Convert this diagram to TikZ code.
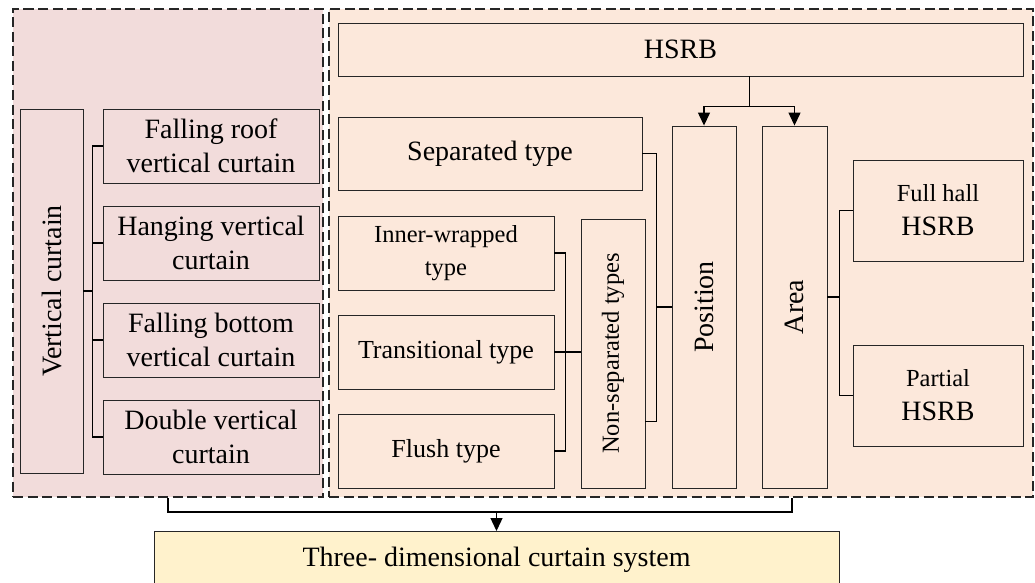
\documentclass[tikz,border=0pt]{standalone}
\usepackage{fontspec}
\setmainfont{Liberation Serif}
\usetikzlibrary{arrows.meta,calc}
\definecolor{pinkfill}{HTML}{F2DCDB}
\definecolor{peachfill}{HTML}{FCE8DB}
\definecolor{yellowfill}{HTML}{FFF2CC}
\newcommand{\fsA}{\fontsize{28}{34}\selectfont}
\newcommand{\fsB}{\fontsize{24.5}{33}\selectfont}
\newcommand{\fsC}{\fontsize{26}{33}\selectfont}
\begin{document}
\begin{tikzpicture}[x=1pt,y=-1pt,
  box/.style={draw=black!85, line width=0.9pt, rectangle, inner sep=0pt, align=center},
  panel/.style={draw=black!85, dash pattern=on 10pt off 4.5pt, line width=2pt, rectangle, inner sep=0pt},
  link/.style={draw=black, line width=1.3pt},
  arr/.style={link, -{Triangle[length=13pt,width=12pt]}},
  lbl/.style={rotate=90, inner sep=0pt}]
\clip (0,0) rectangle (1035,583);
\fill[white] (0,0) rectangle (1035,583);
% panels
\node[panel, fill=pinkfill, minimum width=310pt, minimum height=488pt] (lp) at (168,253) {};
\node[panel, fill=peachfill, minimum width=704pt, minimum height=488pt] (rp) at (681,253) {};
% left panel
\node[box, minimum width=63pt, minimum height=364pt] (vc) at (51.5,291) {};
\node[lbl, font=\fsA] (vct) at (vc.center) {Vertical curtain};
\node[box, minimum width=216pt, minimum height=74pt, font=\fsA] (fr) at (211,146) {Falling roof\\vertical curtain};
\node[box, minimum width=216pt, minimum height=74pt, font=\fsA] (hg) at (211,243) {Hanging vertical\\curtain};
\node[box, minimum width=216pt, minimum height=74pt, font=\fsA] (fb) at (211,340) {Falling bottom\\vertical curtain};
\node[box, minimum width=216pt, minimum height=74pt, font=\fsA] (dv) at (211,437) {Double vertical\\curtain};
% right panel
\node[box, minimum width=685pt, minimum height=53pt, font=\fsA] (hsrb) at (680.5,49.5) {HSRB};
\node[box, minimum width=304pt, minimum height=73pt, font=\fsA] (sep) at (490,153.5) {Separated type};
\node[box, minimum width=216pt, minimum height=74pt, font=\fsB] (iw) at (446,253) {Inner-wrapped\\type};
\node[box, minimum width=216pt, minimum height=74pt, font=\fsC] (tr) at (446,352) {Transitional type};
\node[box, minimum width=216pt, minimum height=74pt, font=\fsC] (fl) at (446,451) {Flush type};
\node[box, minimum width=64pt, minimum height=269pt] (ns) at (613,353.5) {};
\node[lbl, font=\fsB] (nst) at (ns.center) {Non-separated types};
\node[box, minimum width=64pt, minimum height=362pt] (pos) at (704,307) {};
\node[lbl, font=\fsA] (post) at (pos.center) {Position};
\node[box, minimum width=65pt, minimum height=362pt] (area) at (794.5,307) {};
\node[lbl, font=\fsA] (areat) at (area.center) {Area};
\node[box, minimum width=170pt, minimum height=101pt, font=\fsA] (fh) at (938,210.5) {{\fsB Full hall}\\HSRB};
\node[box, minimum width=170pt, minimum height=101pt, font=\fsA] (pa) at (938,395.5) {{\fsB Partial}\\HSRB};
% bottom
\node[box, fill=yellowfill, minimum width=685pt, minimum height=56pt, font=\fsA, anchor=north] (bot) at (496.5,531) {Three- dimensional curtain system};
% connectors: left
\draw[link] (fr.west) -- ++(-10,0) coordinate (lb) |- (dv.west);
\draw[link] (hg.west) -- (hg.west -| lb);
\draw[link] (fb.west) -- (fb.west -| lb);
\draw[link] (vc.east) -- (vc.east -| lb);
% HSRB split
\coordinate (mid) at ($(pos.north)!0.5!(area.north)$);
\draw[link] (hsrb.south -| mid) -- ++(0,30) coordinate (hj);
\draw[arr] (hj) -| (pos.north);
\draw[arr] (hj) -| (area.north);
% non-separated group
\draw[link] (iw.east) -- ++(11,0) coordinate (nb) |- (fl.east);
\draw[link] (tr.east) -- (tr.east -| ns.west);
% position group
\path ([yshift=-68pt]ns.east) coordinate (nse);
\draw[link] (sep.east) -- ++(14,0) coordinate (pb) |- (nse);
\draw[link] (pos.west) -- (pos.west -| pb);
% area group
\path ([yshift=10pt]area.east) coordinate (ae);
\draw[link] (fh.west) -- ++(-13,0) coordinate (ab) |- (pa.west);
\draw[link] (ae) -- (ae -| ab);
% to bottom
\coordinate (rb) at (792,0);
\draw[link] (lp.south) -- ++(0,14) coordinate (bj) -| (rp.south -| rb);
\draw[arr] (bot.north |- bj) -- (bot.north);
\end{tikzpicture}
\end{document}
